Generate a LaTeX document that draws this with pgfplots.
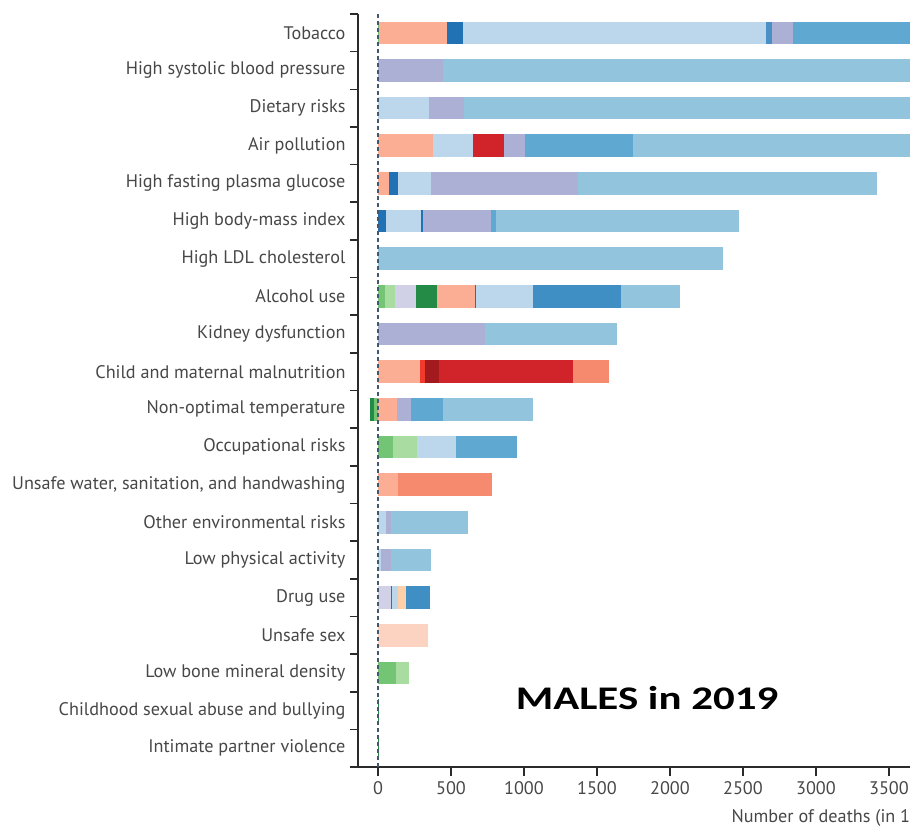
\documentclass[border=0pt]{standalone}
\usepackage{pgfplots}
\pgfplotsset{compat=1.18}
\usepackage{fontspec}
\setmainfont{PT Sans}
\newfontfamily\calibri{Carlito}

\definecolor{cLgreen}{HTML}{74C476}
\definecolor{cPgreen}{HTML}{A8DCA0}
\definecolor{cDgreen}{HTML}{238B45}
\definecolor{cSalmon}{HTML}{FBAE93}
\definecolor{cOrSalmon}{HTML}{F58A6E}
\definecolor{cRed}{HTML}{D0232A}
\definecolor{cDarkred}{HTML}{A31A1E}
\definecolor{cRedorange}{HTML}{EF3B2C}
\definecolor{cPeach}{HTML}{FCD3C1}
\definecolor{cPeachB}{HTML}{FDD0A9}
\definecolor{cDblue}{HTML}{2171B5}
\definecolor{cPale}{HTML}{BCD7EC}
\definecolor{cMid}{HTML}{4A90C6}
\definecolor{cLav}{HTML}{ADB0D5}
\definecolor{cGreylav}{HTML}{D0D1E6}
\definecolor{cBlue}{HTML}{5FA8D1}
\definecolor{cBlueB}{HTML}{3F8FC5}
\definecolor{cSky}{HTML}{93C4DE}
\definecolor{labelgray}{HTML}{474747}
\definecolor{axisdark}{HTML}{2B2B2B}
\definecolor{dashcol}{HTML}{44586B}

% one segment: row, cumulative end, colour (drawn from longest to shortest)
\newcommand{\seg}[3]{\addplot[xbar, bar shift=0pt, bar width=22.6pt, fill=#3, draw=none, forget plot] coordinates {(#2,#1)};}

\begin{document}
\begin{tikzpicture}
\useasboundingbox (0pt,0pt) rectangle (910pt,827pt);
\begin{axis}[
  scale only axis,
  width=552pt, height=753pt,
  at={(358pt,60pt)}, anchor=south west,
  xmin=-137, xmax=3644,
  ymin=-0.5, ymax=19.5,
  y dir=reverse,
  axis x line*=bottom, axis y line*=left,
  axis line style={line width=1.6pt, draw=axisdark},
  xtick={0,500,...,3500},
  ytick={0,...,19},
  yticklabels={Tobacco, High systolic blood pressure, Dietary risks, Air pollution, High fasting plasma glucose, High body-mass index, High LDL cholesterol, Alcohol use, Kidney dysfunction, Child and maternal malnutrition, Non-optimal temperature, Occupational risks, {Unsafe water, sanitation, and handwashing}, Other environmental risks, Low physical activity, Drug use, Unsafe sex, Low bone mineral density, Childhood sexual abuse and bullying, Intimate partner violence},
  minor ytick={-0.5,0.5,...,19.5},
  tick align=outside,
  major tick length=9pt,
  minor tick length=8pt,
  tick style={line width=1.6pt, draw=axisdark},
  major y tick style={draw=none},
  ticklabel style={font=\fontsize{18.2}{21}\selectfont, text=labelgray},
  xticklabel style={yshift=-2pt},
  /pgf/number format/assume math mode=true,
  /pgf/number format/1000 sep={},
  clip=true,
]
% Tobacco
\seg{0}{4200}{cBlue}\seg{0}{2840}{cLav}\seg{0}{2700}{cMid}\seg{0}{2655}{cPale}\seg{0}{580}{cDblue}\seg{0}{470}{cSalmon}\seg{0}{10}{cLgreen}
% High SBP
\seg{1}{4500}{cSky}\seg{1}{448}{cLav}
% Dietary
\seg{2}{4500}{cSky}\seg{2}{590}{cLav}\seg{2}{352}{cPale}
% Air pollution
\seg{3}{4500}{cSky}\seg{3}{1744}{cBlue}\seg{3}{1005}{cLav}\seg{3}{864}{cRed}\seg{3}{648}{cPale}\seg{3}{378}{cSalmon}
% HFPG
\seg{4}{3415}{cSky}\seg{4}{1370}{cLav}\seg{4}{361}{cPale}\seg{4}{139}{cDblue}\seg{4}{77}{cSalmon}
% BMI
\seg{5}{2475}{cSky}\seg{5}{810}{cBlue}\seg{5}{776}{cLav}\seg{5}{305}{cDblue}\seg{5}{293}{cPale}\seg{5}{55}{cDblue}
% LDL
\seg{6}{2360}{cSky}
% Alcohol
\seg{7}{2070}{cSky}\seg{7}{1663}{cBlueB}\seg{7}{1065}{cPale}\seg{7}{673}{cDblue}\seg{7}{661}{cSalmon}\seg{7}{406}{cDgreen}\seg{7}{262}{cGreylav}\seg{7}{118}{cPgreen}\seg{7}{48}{cLgreen}
% Kidney
\seg{8}{1635}{cSky}\seg{8}{733}{cLav}
% Child and maternal malnutrition
\seg{9}{1580}{cOrSalmon}\seg{9}{1337}{cRed}\seg{9}{415}{cDarkred}\seg{9}{319}{cRedorange}\seg{9}{285}{cSalmon}
% Non-optimal temperature
\seg{10}{-55}{cDgreen}\seg{10}{-27}{cLgreen}
\seg{10}{1065}{cSky}\seg{10}{447}{cBlue}\seg{10}{224}{cLav}\seg{10}{128}{cSalmon}
% Occupational
\seg{11}{950}{cBlue}\seg{11}{534}{cPale}\seg{11}{267}{cPgreen}\seg{11}{105}{cLgreen}
% Unsafe water
\seg{12}{784}{cOrSalmon}\seg{12}{139}{cSalmon}
% Other environmental
\seg{13}{615}{cSky}\seg{13}{91}{cLav}\seg{13}{57}{cPale}
% Low physical activity
\seg{14}{360}{cSky}\seg{14}{87}{cLav}\seg{14}{23}{cPale}
% Drug use
\seg{15}{355}{cBlueB}\seg{15}{189}{cPeachB}\seg{15}{137}{cPale}\seg{15}{96}{cDgreen}\seg{15}{87}{cGreylav}
% Unsafe sex
\seg{16}{345}{cPeach}
% Low bone mineral density
\seg{17}{212}{cPgreen}\seg{17}{123}{cLgreen}
% Childhood sexual abuse, IPV
\seg{18}{3}{cDgreen}
\seg{19}{3}{cDgreen}
% zero line
\addplot[dashcol, line width=2.1pt, dash pattern=on 4pt off 3pt, forget plot] coordinates {(0,-0.5) (0,19.5)};
\end{axis}
\draw[line width=1.6pt, axisdark] (350pt,60pt) -- (359pt,60pt);
\node[anchor=west, font=\fontsize{18.2}{21}\selectfont, text=labelgray] at (728pt,9pt) {Number of deaths (in 1000s)};
\node[xscale=1.3, font=\calibri\bfseries\fontsize{33}{38}\selectfont] at (647pt,129pt) {MALES in 2019};
\end{tikzpicture}
\end{document}
